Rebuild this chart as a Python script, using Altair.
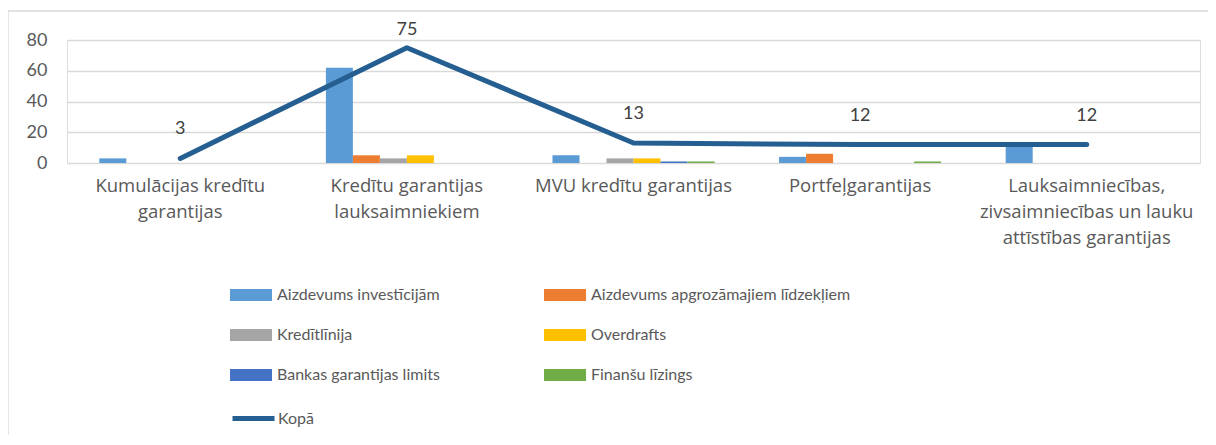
import altair as alt
import pandas as pd

categories = [
    "Kumulācijas kredītu\ngarantijas",
    "Kredītu garantijas\nlauksaimniekiem",
    "MVU kredītu garantijas",
    "Portfeļgarantijas",
    "Lauksaimniecības,\nzivsaimniecības un lauku\nattīstības garantijas",
]
series_names = [
    "Aizdevums investīcijām",
    "Aizdevums apgrozāmajiem līdzekļiem",
    "Kredītlīnija",
    "Overdrafts",
    "Bankas garantijas limits",
    "Finanšu līzings",
]
aizdevums_investicijam = [3, 62, 5, 4, 12]
aizdevums_apgrozamajiem = [0, 5, 0, 6, 0]
kreditlinija = [0, 3, 3, 0, 0]
overdrafts = [0, 5, 3, 0, 0]
bankas_garantijas = [0, 0, 1, 0, 0]
finansu_lizings = [0, 0, 1, 1, 0]
kopa = [3, 75, 13, 12, 12]
line_name = "Kopā"
y_ticks = [0, 20, 40, 60, 80]

colors = ["#5B9BD5", "#ED7D31", "#A5A5A5", "#FFC000", "#4472C4", "#70AD47"]
line_color = "#255E91"
FONT = "Lato"
XFONT = "Open Sans"
TXT = "#595959"

series_values = [aizdevums_investicijam, aizdevums_apgrozamajiem, kreditlinija,
                 overdrafts, bankas_garantijas, finansu_lizings]
rows = []
for name, vals in zip(series_names, series_values):
    for c, v in zip(categories, vals):
        rows.append({"cat": c, "series": name, "value": v})
bars_df = pd.DataFrame(rows)
line_df = pd.DataFrame({"cat": categories, "value": kopa, "series": [line_name] * len(kopa)})

x_scale = alt.Scale(domain=categories, paddingInner=0.285, paddingOuter=0.1425)
y_scale = alt.Scale(domain=[0, 80], nice=False)

x_axis = alt.Axis(
    title=None, domain=False, ticks=False, labelAngle=0,
    labelExpr="split(datum.value, '\\n')", labelFont=XFONT, labelFontSize=18.5,
    labelColor=TXT, labelLineHeight=26, labelPadding=13, labelLimit=400,
)
y_axis = alt.Axis(
    title=None, domain=False, ticks=False, values=y_ticks, labelFont=FONT,
    labelFontSize=18, labelColor=TXT, labelPadding=20, gridColor="#D9D9D9",
    gridWidth=1.4, labelOverlap=False,
)

rect_path = "M-1,-0.2857H1V0.2857H-1Z"

X = alt.X("cat:N", scale=x_scale, axis=x_axis, sort=categories)
Y = alt.Y("value:Q", scale=y_scale, axis=y_axis)

bars = alt.Chart(bars_df).mark_bar().encode(
    x=X,
    xOffset=alt.XOffset("series:N", scale=alt.Scale(domain=series_names, paddingInner=0, paddingOuter=0)),
    y=Y,
    color=alt.Color(
        "series:N",
        scale=alt.Scale(domain=series_names, range=colors),
        legend=alt.Legend(
            title=None, orient="none", legendX=163, legendY=234, columns=2,
            direction="horizontal",
            symbolType=rect_path, symbolSize=1764, symbolStrokeWidth=0,
            labelFont=FONT, labelFontSize=16, labelColor=TXT, labelOffset=5,
            rowPadding=11, columnPadding=104, labelLimit=400,
        ),
    ),
)

line = alt.Chart(line_df).mark_line(strokeWidth=5, strokeCap="round", strokeJoin="round").encode(
    x=X,
    y=Y,
    stroke=alt.Stroke(
        "series:N",
        scale=alt.Scale(domain=[line_name], range=[line_color]),
        legend=alt.Legend(
            title=None, orient="none", legendX=163, legendY=355,
            symbolType="stroke", symbolSize=1764, symbolStrokeWidth=5,
            labelFont=FONT, labelFontSize=16, labelColor=TXT, labelOffset=1,
        ),
    ),
)

label_enc = dict(x=X, y=Y, text=alt.Text("value:Q"))
labels_low = alt.Chart(line_df).transform_filter("datum.value <= 70").mark_text(
    font=FONT, fontSize=18, color="#404040", baseline="middle", dy=-29
).encode(**label_enc)
labels_high = alt.Chart(line_df).transform_filter("datum.value > 70").mark_text(
    font=FONT, fontSize=18, color="#404040", baseline="middle", dy=-18
).encode(**label_enc)

frame_top = alt.Chart().mark_rule(color="#D9D9D9", strokeWidth=1.3).encode(
    x=alt.value(-59), x2=alt.value(1141), y=alt.value(-29)
)
frame_left = alt.Chart().mark_rule(color="#D9D9D9", strokeWidth=1.3).encode(
    x=alt.value(-59), y=alt.value(-29), y2=alt.value(400)
)

chart = alt.layer(frame_top, frame_left, bars, line, labels_low, labels_high).properties(
    width=1133, height=123,
    autosize=alt.AutoSizeParams(type="none"),
    padding={"left": 59, "top": 32, "right": 8, "bottom": 272},
).configure_view(stroke=None).configure(font=FONT)

chart.save("out.html", embed_options={"renderer": "svg", "actions": False})
